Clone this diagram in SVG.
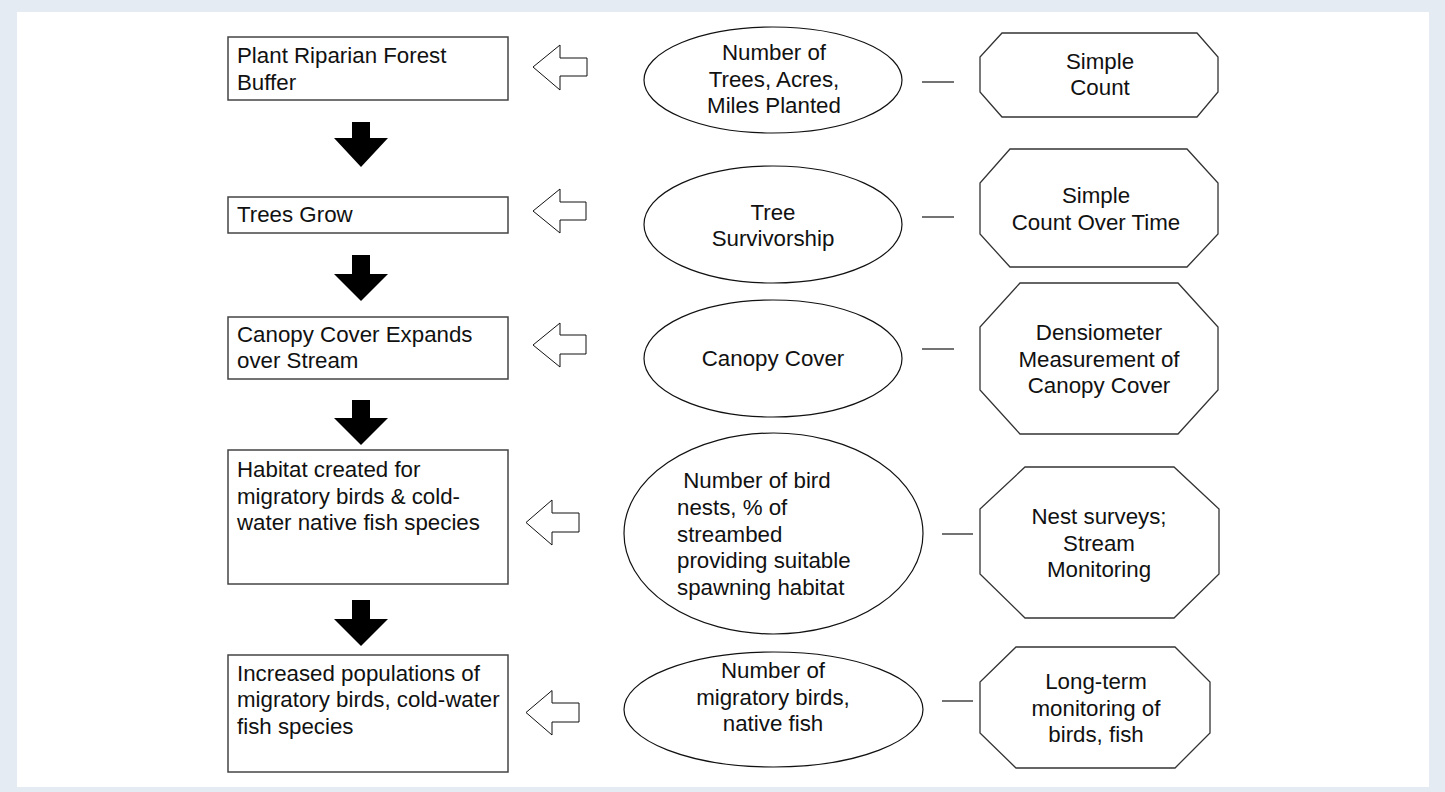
<svg xmlns="http://www.w3.org/2000/svg" width="1445" height="792" viewBox="0 0 1445 792">
<style>
.box{fill:#fff;stroke:#444;stroke-width:1.5}
.ell{fill:#fff;stroke:#111;stroke-width:1.2}
.oct{fill:#fff;stroke:#333;stroke-width:1.3}
.hol{fill:#fff;stroke:#111;stroke-width:1}
.blk{fill:#000;stroke:none}
.ln{stroke:#444;stroke-width:1.5}
text{font-family:"Liberation Sans",Arial,sans-serif;font-size:22.3px;fill:#111}
.c{text-anchor:middle}
</style>
<rect x="0" y="0" width="1445" height="792" fill="#e4ebf3"/>
<rect x="17" y="12" width="1412" height="775" fill="#fff"/>

<g id="connectors">
<polygon class="blk" points="352,122 370,122 370,138 388,138 361,167 334,138 352,138"/>
<polygon class="blk" points="352,255 370,255 370,274 388,274 361,301 334,274 352,274"/>
<polygon class="blk" points="352,400 370,400 370,418 388,418 361,445 334,418 352,418"/>
<polygon class="blk" points="352,600 370,600 370,619 388,619 361,646 334,619 352,619"/>
<polygon class="hol" points="533,67 560,45 560,58 587,58 587,76 560,76 560,90"/>
<polygon class="hol" points="533,211 560,189 560,202 586,202 586,220 560,220 560,233"/>
<polygon class="hol" points="533,345 560,323 560,335 586,335 586,354 560,354 560,367"/>
<polygon class="hol" points="526,522.5 552,500 552,513 579,513 579,532 552,532 552,545"/>
<polygon class="hol" points="526,712.5 552,690.5 552,703 579,703 579,722 552,722 552,735"/>
<line class="ln" x1="922" y1="82" x2="954" y2="82"/>
<line class="ln" x1="922" y1="217" x2="954" y2="217"/>
<line class="ln" x1="922" y1="349" x2="954" y2="349"/>
<line class="ln" x1="942" y1="534" x2="973" y2="534"/>
<line class="ln" x1="942" y1="701" x2="973" y2="701"/>
</g>

<g id="box1"><rect class="box" x="228" y="37" width="280" height="63"/>
<text x="237" y="63">Plant Riparian Forest</text><text x="237" y="90">Buffer</text></g>
<g id="box2"><rect class="box" x="228" y="197" width="280" height="36"/>
<text x="237" y="222">Trees Grow</text></g>
<g id="box3"><rect class="box" x="228" y="317" width="280" height="62"/>
<text x="237" y="342">Canopy Cover Expands</text><text x="237" y="368">over Stream</text></g>
<g id="box4"><rect class="box" x="228" y="450" width="280" height="134"/>
<text x="237" y="477">Habitat created for</text><text x="237" y="504">migratory birds &amp; cold-</text><text x="237" y="530">water native fish species</text></g>
<g id="box5"><rect class="box" x="228" y="655" width="280" height="117"/>
<text x="237" y="681">Increased populations of</text><text x="237" y="707">migratory birds, cold-water</text><text x="237" y="734">fish species</text></g>

<g id="ell1"><ellipse class="ell" cx="773" cy="80" rx="129" ry="53"/>
<text class="c" x="774" y="60">Number of</text><text class="c" x="774" y="87">Trees, Acres,</text><text class="c" x="774" y="113">Miles Planted</text></g>
<g id="ell2"><ellipse class="ell" cx="773" cy="224.5" rx="129" ry="58.5"/>
<text class="c" x="773" y="220">Tree</text><text class="c" x="773" y="246">Survivorship</text></g>
<g id="ell3"><ellipse class="ell" cx="773" cy="358.5" rx="129" ry="58.5"/>
<text class="c" x="773" y="366">Canopy Cover</text></g>
<g id="ell4"><ellipse class="ell" cx="773.5" cy="533.5" rx="149.5" ry="100.5"/>
<text x="677" y="488" xml:space="preserve"> Number of bird</text><text x="677" y="515">nests, % of</text><text x="677" y="542">streambed</text><text x="677" y="568">providing suitable</text><text x="677" y="595">spawning habitat</text></g>
<g id="ell5"><ellipse class="ell" cx="773.5" cy="709.5" rx="149.5" ry="57.5"/>
<text class="c" x="773" y="678">Number of</text><text class="c" x="773" y="705">migratory birds,</text><text class="c" x="773" y="731">native fish</text></g>

<g id="oct1"><polygon class="oct" points="1002,33 1197,33 1218,57 1218,92 1197,117 1002,117 980,92 980,57"/>
<text class="c" x="1100" y="69">Simple</text><text class="c" x="1100" y="95">Count</text></g>
<g id="oct2"><polygon class="oct" points="1010,149 1187,149 1218,183 1218,234 1187,267 1010,267 980,234 980,183"/>
<text class="c" x="1096" y="203">Simple</text><text class="c" x="1096" y="230">Count Over Time</text></g>
<g id="oct3"><polygon class="oct" points="1020,283 1178,283 1218,327 1218,390 1178,434 1020,434 980,390 980,327"/>
<text class="c" x="1099" y="340">Densiometer</text><text class="c" x="1099" y="367">Measurement of</text><text class="c" x="1099" y="393">Canopy Cover</text></g>
<g id="oct4"><polygon class="oct" points="1025,467 1174,467 1219,509 1219,574 1174,618 1025,618 980,574 980,509"/>
<text class="c" x="1099" y="524">Nest surveys;</text><text class="c" x="1099" y="551">Stream</text><text class="c" x="1099" y="577">Monitoring</text></g>
<g id="oct5"><polygon class="oct" points="1016,647 1175,647 1210,682 1210,733 1175,768 1016,768 980,733 980,682"/>
<text class="c" x="1096" y="689">Long-term</text><text class="c" x="1096" y="716">monitoring of</text><text class="c" x="1096" y="742">birds, fish</text></g>
</svg>
